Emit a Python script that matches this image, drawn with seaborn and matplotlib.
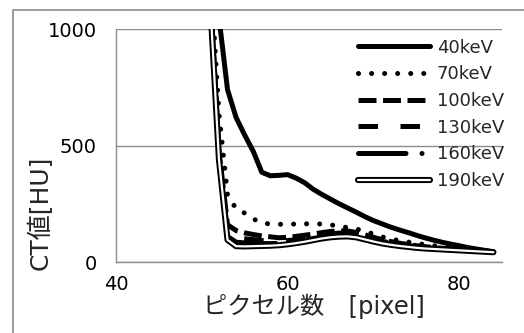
import pandas as pd
import seaborn as sns
import matplotlib.pyplot as plt
import matplotlib.patheffects as pe
from matplotlib.patches import Rectangle

# pixel position along the profile
pixel = list(range(51, 85))

# CT values [HU] for each energy
ct_40kev = [1400, 1050, 740, 620, 545, 475, 385, 370, 372, 375, 360, 340, 312, 290, 270, 250, 232,
            214, 195, 178, 164, 150, 138, 127, 115, 104, 94, 85, 77, 70, 62, 56, 50, 44]
ct_70kev = [1250, 640, 290, 228, 210, 185, 168, 163, 162, 162, 163, 164, 164, 163, 160, 153, 148,
            142, 132, 120, 108, 99, 92, 86, 80, 75, 70, 66, 62, 58, 54, 51, 48, 45]
ct_100kev = [1150, 480, 160, 135, 125, 118, 112, 108, 104, 106, 110, 115, 120, 126, 131, 134, 133,
             127, 117, 106, 96, 88, 81, 75, 70, 66, 62, 59, 56, 53, 51, 49, 47, 45]
ct_130kev = [1130, 460, 130, 105, 100, 96, 92, 90, 90, 92, 96, 102, 109, 116, 121, 124, 124,
             119, 109, 98, 89, 82, 76, 71, 67, 63, 60, 57, 54, 52, 50, 48, 46, 44]
ct_160kev = [1120, 450, 110, 85, 82, 80, 79, 79, 80, 83, 88, 94, 101, 108, 114, 118, 118,
             113, 103, 93, 85, 78, 72, 68, 64, 61, 58, 55, 53, 51, 49, 47, 45, 43]
ct_190kev = [1100, 440, 95, 68, 67, 68, 69, 70, 72, 76, 81, 87, 94, 101, 106, 109, 110,
             106, 97, 88, 80, 74, 69, 65, 61, 58, 56, 54, 52, 50, 48, 46, 44, 42]

labels = ["40keV", "70keV", "100keV", "130keV", "160keV", "190keV"]
series = [ct_40kev, ct_70kev, ct_100kev, ct_130kev, ct_160kev, ct_190kev]

sns.set_style("white")
plt.rcParams['font.family'] = ['DejaVu Sans', 'Noto Sans CJK JP']

fig = plt.figure(figsize=(5.24, 3.33), dpi=100)
ax = fig.add_axes([0.2214, 0.2132, 0.7366, 0.6997])

# outer chart frame (cropped on the right and bottom)
fig.patches.append(Rectangle((13 / 524, -0.1), 1.2, 1 - 10 / 333 + 0.1, transform=fig.transFigure,
                             fill=False, edgecolor='#8c8c8c', linewidth=1.2))

lw = 3.6
styles = [
    dict(linestyle='-', solid_capstyle='round'),
    dict(linestyle=(0, (0.01, 2.6)), dash_capstyle='round'),
    dict(linestyle=(0, (3.6, 1.3))),
    dict(linestyle=(0, (3.9, 4.5))),
    dict(linestyle=(0, (9.5, 3.2, 0.01, 3.2)), dash_capstyle='round'),
    dict(linestyle='-', solid_capstyle='round'),
]

for lab, vals, st in zip(labels, series, styles):
    df = pd.DataFrame({'pixel': pixel, 'ct': vals})
    if lab == "190keV":
        sns.lineplot(data=df, x='pixel', y='ct', ax=ax, color='white', linewidth=1.6, label=lab,
                     path_effects=[pe.Stroke(linewidth=4.4, foreground='black'), pe.Normal()], **st)
    else:
        sns.lineplot(data=df, x='pixel', y='ct', ax=ax, color='black', linewidth=lw, label=lab, **st)

ax.set_xlim(40, 85)
ax.set_ylim(0, 1000)
ax.set_xticks([40, 60, 80])
ax.set_yticks([0, 500, 1000])
ax.grid(axis='y', color='#8c8c8c', linewidth=1.0)
ax.grid(axis='x', visible=False)
for s in ['top', 'right']:
    ax.spines[s].set_visible(False)
for s in ['left', 'bottom']:
    ax.spines[s].set_color('#8c8c8c')
    ax.spines[s].set_linewidth(1.0)
ax.tick_params(axis='both', direction='out', length=5, width=1.0, color='#8c8c8c',
               labelsize=14, labelcolor='black')
ax.tick_params(axis='y', pad=9)
ax.tick_params(axis='x', pad=4)
ax.set_axisbelow(True)

ax.set_xlabel("ピクセル数　[pixel]", fontsize=17.5)
ax.set_ylabel("CT値[HU]", fontsize=18)
ax.yaxis.set_label_coords(-0.163, 0.21)
ax.xaxis.set_label_coords(0.513, -0.135)

ax.legend(loc='upper right', frameon=False, fontsize=13, handlelength=4.0, handletextpad=0.35,
          labelspacing=0.48, borderaxespad=0.0, bbox_to_anchor=(1.024, 0.99))

fig.savefig("out.png", dpi=100)
